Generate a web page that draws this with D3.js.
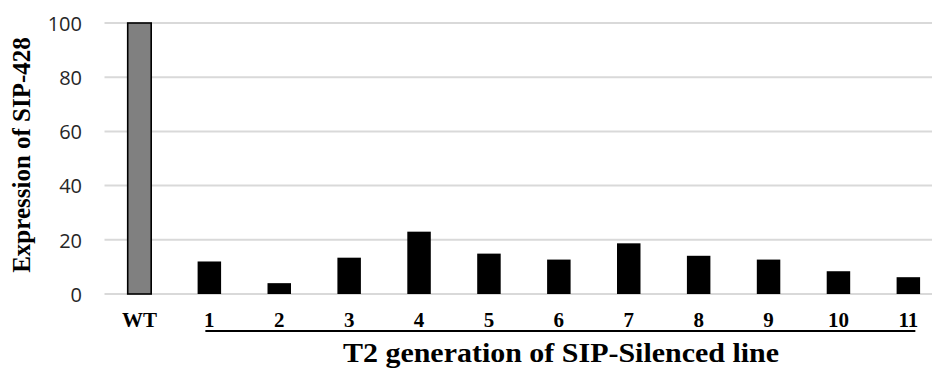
<!DOCTYPE html>
<html>
<head>
<meta charset="utf-8">
<script src="https://cdn.jsdelivr.net/npm/d3@7"></script>
<style>
  html, body { margin: 0; padding: 0; background: #fff; }
  svg { display: block; }
</style>
</head>
<body>
<div id="chart"></div>
<script>
// Relative expression of SIP-428 in wild type and T2 silenced lines
const categories = ["WT", "1", "2", "3", "4", "5", "6", "7", "8", "9", "10", "11"];
const expression = [100, 12, 4, 13.4, 23, 14.9, 12.7, 18.7, 14.1, 12.7, 8.4, 6.2];
const yTicks = [0, 20, 40, 60, 80, 100];
const xTitle = "T2 generation of SIP-Silenced line";
const yTitle = "Expression of SIP-428";

const width = 932, height = 369;
const plotLeft = 104.5, plotTop = 23, plotBottom = 294;
const step = 69.9;
const serif = "'Liberation Serif', 'Times New Roman', serif";

const svg = d3.select("#chart").append("svg")
  .attr("width", width).attr("height", height);

const x = d3.scaleBand()
  .domain(categories)
  .range([plotLeft, plotLeft + step * categories.length])
  .paddingInner(0.664)
  .paddingOuter(0.332);

const y = d3.scaleLinear().domain([0, 100]).range([plotBottom, plotTop]);

// Horizontal gridlines
svg.append("g")
  .selectAll("line")
  .data(yTicks)
  .join("line")
  .attr("x1", plotLeft).attr("x2", width)
  .attr("y1", d => y(d)).attr("y2", d => y(d))
  .attr("stroke", "#d9d9d9").attr("stroke-width", 2);

// Y axis tick labels
const yAxis = d3.axisLeft(y).tickValues(yTicks).tickSize(0).tickPadding(0);
const yg = svg.append("g").attr("transform", "translate(82,0)").call(yAxis);
yg.select(".domain").remove();
yg.selectAll("text")
  .attr("font-family", "'Open Sans', sans-serif")
  .attr("font-size", 20)
  .attr("fill", "#262626")
  .attr("dy", "0.36em");

// Bars
svg.append("g")
  .selectAll("rect")
  .data(categories.map((c, i) => ({ c, v: expression[i] })))
  .join("rect")
  .attr("x", d => x(d.c))
  .attr("width", x.bandwidth())
  .attr("y", d => y(d.v))
  .attr("height", d => y(0) - y(d.v))
  .attr("fill", d => d.c === "WT" ? "#808080" : "#000")
  .attr("stroke", "#000")
  .attr("stroke-width", d => d.c === "WT" ? 1.6 : 0);

// X axis category labels
const xAxis = d3.axisBottom(x).tickSize(0).tickPadding(0);
const xg = svg.append("g").call(xAxis);
xg.select(".domain").remove();
xg.selectAll("text")
  .attr("y", 327)
  .attr("dy", 0)
  .attr("font-family", serif)
  .attr("font-weight", "bold")
  .attr("font-size", 21)
  .attr("fill", "#000");

// Line grouping the silenced lines
svg.append("line")
  .attr("x1", x("1") + x.bandwidth() / 2 - 4)
  .attr("x2", x("11") + x.bandwidth() / 2 + 7)
  .attr("y1", 331).attr("y2", 331)
  .attr("stroke", "#000").attr("stroke-width", 2);

// Axis titles
svg.append("text")
  .attr("transform", "translate(561,362) scale(1.11,1)")
  .attr("text-anchor", "middle")
  .attr("font-family", serif)
  .attr("font-weight", "bold")
  .attr("font-size", 27)
  .text(xTitle);

svg.append("text")
  .attr("transform", "translate(30,155) rotate(-90)")
  .attr("text-anchor", "middle")
  .attr("font-family", serif)
  .attr("font-weight", "bold")
  .attr("font-size", 25)
  .text(yTitle);
</script>
</body>
</html>
